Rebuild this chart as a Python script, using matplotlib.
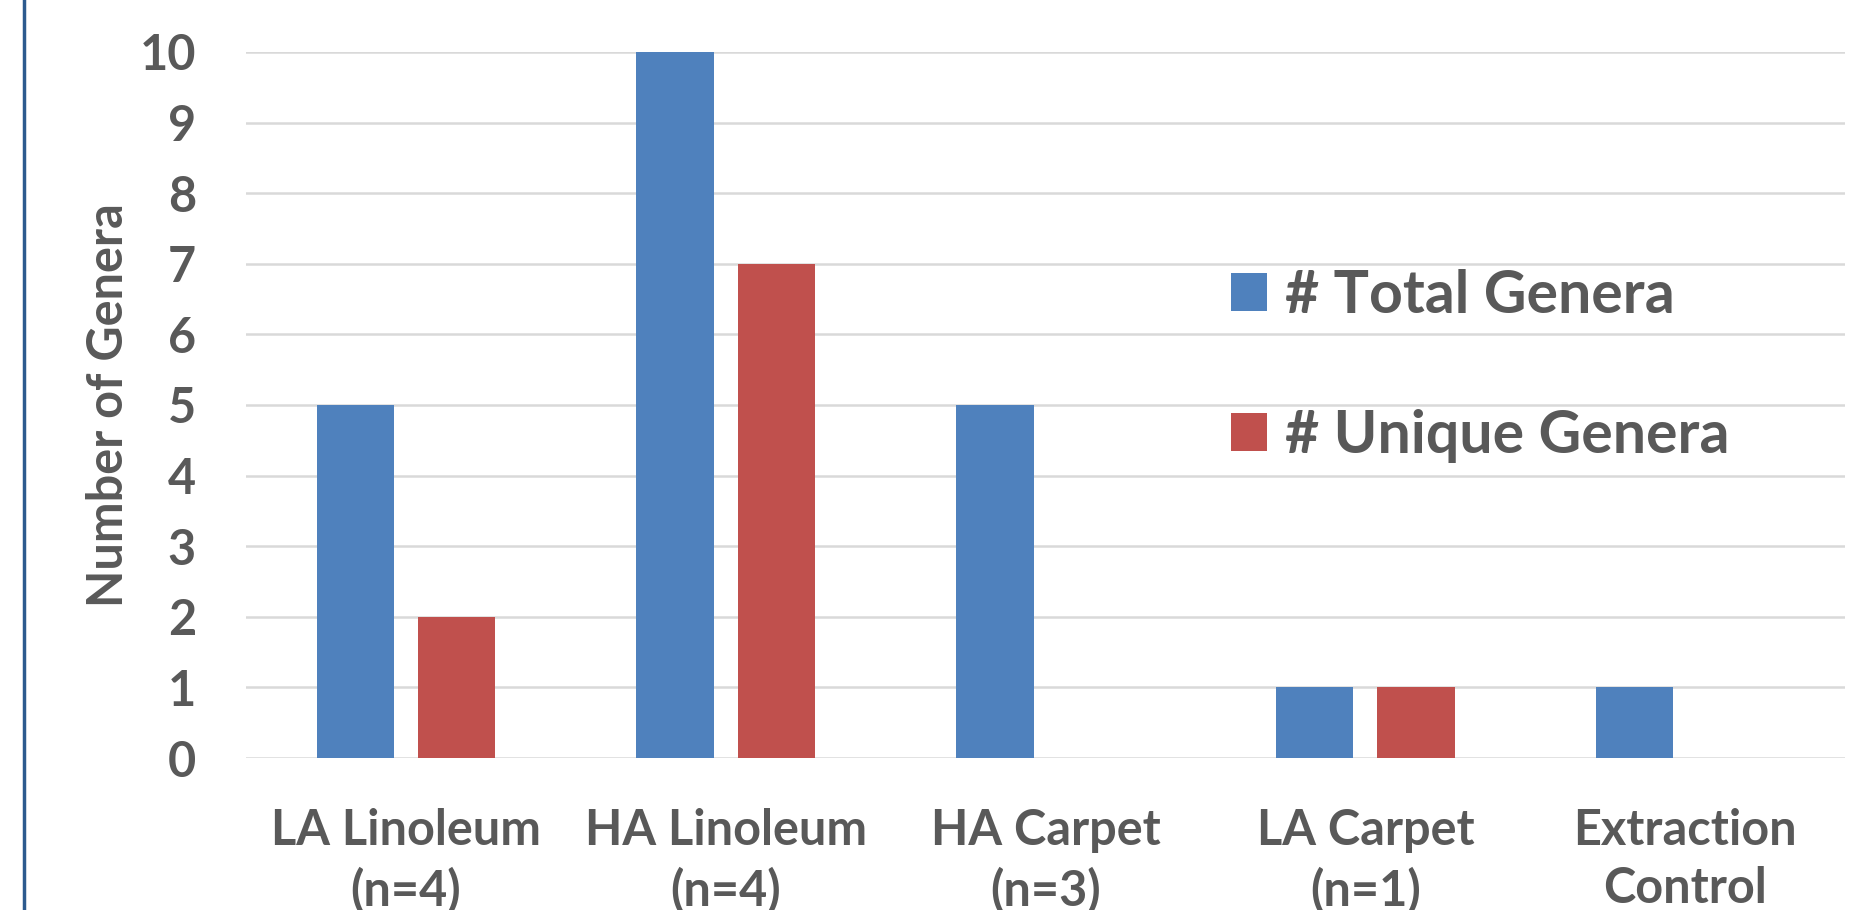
import numpy as np
import matplotlib.pyplot as plt
from matplotlib.lines import Line2D
from matplotlib.patches import Patch

# Genera counts per floor type
categories = ['LA Linoleum\n(n=4)', 'HA Linoleum\n(n=4)', 'HA Carpet\n(n=3)',
              'LA Carpet\n(n=1)', 'Extraction\nControl']
total_genera = [5, 10, 5, 1, 1]
unique_genera = [2, 7, 0, 1, 0]
series_names = ['# Total Genera', '# Unique Genera']

blue = '#4F81BD'
red = '#C0504D'
text_color = '#595959'

plt.rcParams['font.family'] = ['Lato', 'DejaVu Sans']
plt.rcParams['font.weight'] = 'bold'

fig = plt.figure(figsize=(18.65, 9.10), dpi=100)
ax = fig.add_axes([0.1319, 0.167, 0.9893 - 0.1319, 0.9429 - 0.167])

x = np.arange(len(categories))
width = 0.242
offset = 0.158
ax.bar(x - offset, total_genera, width, color=blue, zorder=2)
ax.bar(x + offset, unique_genera, width, color=red, zorder=2)

ax.set_xlim(-0.5, len(categories) - 0.5)
ax.set_ylim(0, 10)
ax.set_yticks(range(0, 11))
ax.yaxis.grid(True, color='#D9D9D9', linewidth=1.8, zorder=0)
ax.set_axisbelow(True)
for s in ax.spines.values():
    s.set_visible(False)

ax.set_xticks(x)
ax.set_xticklabels(categories, fontsize=35, fontweight='bold',
                   color=text_color, linespacing=1.36)
ax.tick_params(axis='x', length=0, pad=36)
ax.tick_params(axis='y', length=0, pad=36, labelsize=35, labelcolor=text_color)
for lbl in ax.get_yticklabels():
    lbl.set_fontweight('bold')

ax.set_ylabel('Number of Genera', fontsize=35, fontweight='bold',
              color=text_color, labelpad=6)

handles = [Patch(facecolor=blue), Patch(facecolor=red)]
leg = fig.legend(handles, series_names, loc='center left',
                 bbox_to_anchor=(0.660, 0.598), frameon=False,
                 prop={'size': 42.5, 'weight': 'bold'},
                 handlelength=0.62, handleheight=0.6, handletextpad=0.3,
                 labelspacing=1.46, borderpad=0, borderaxespad=0)
for t in leg.get_texts():
    t.set_color(text_color)

# left border line of the chart area
fig.add_artist(Line2D([0.0129, 0.0129], [0, 1], transform=fig.transFigure,
                      color='#2C5A8E', linewidth=2.5))

fig.savefig('out.png', dpi=100)
